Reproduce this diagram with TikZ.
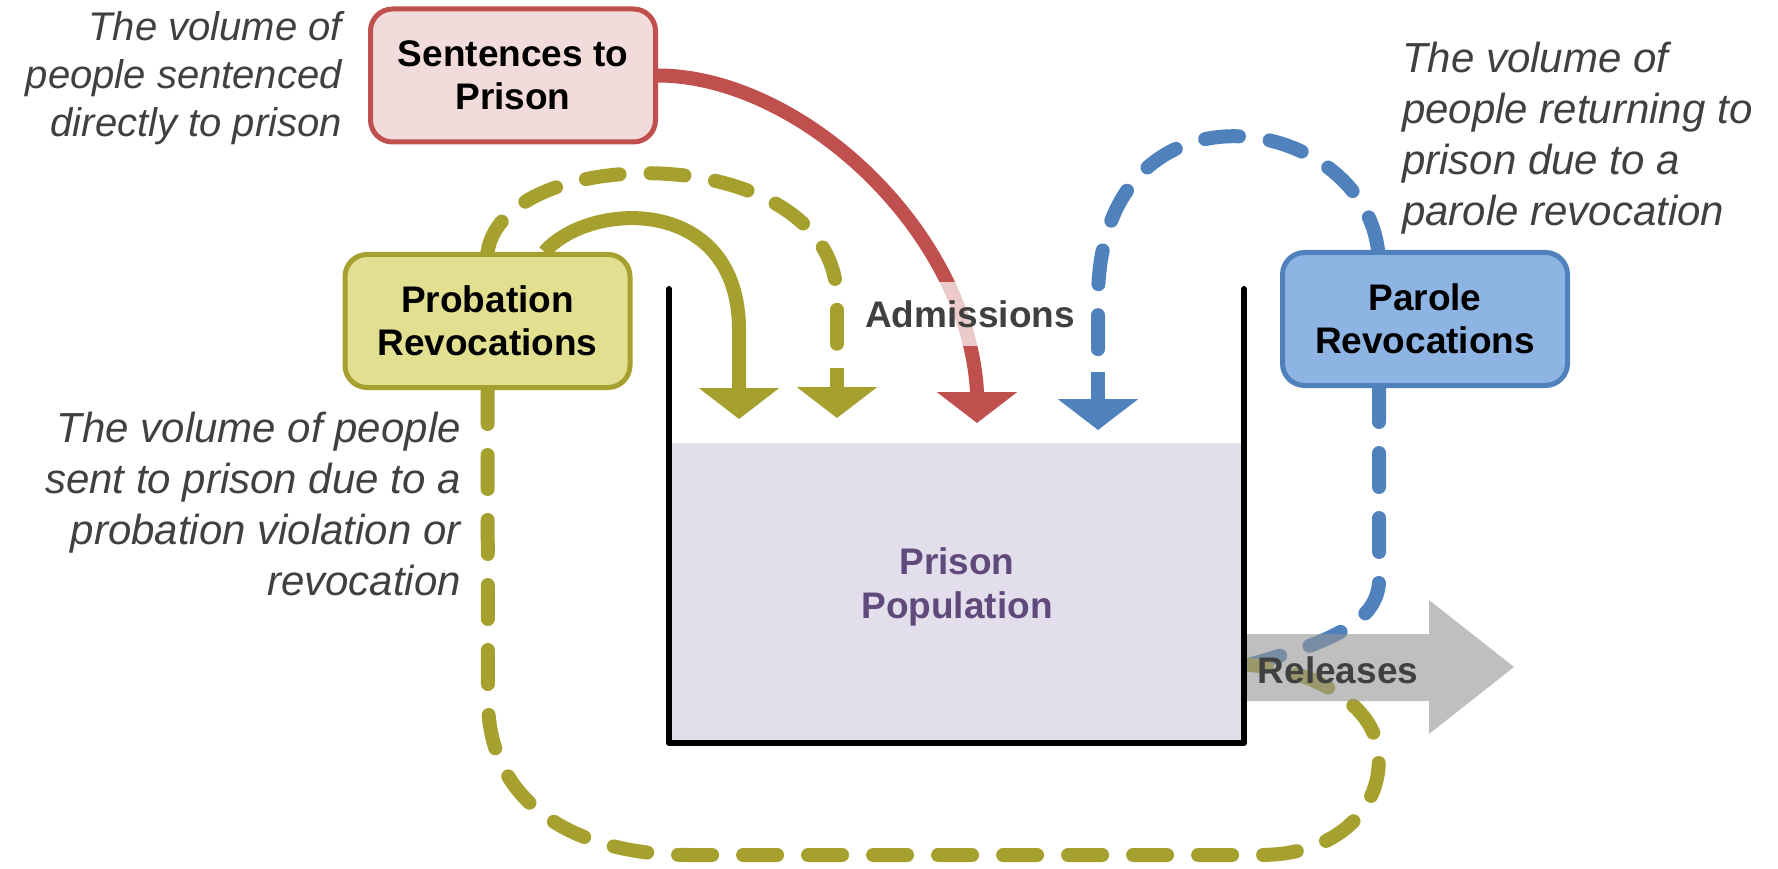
\documentclass[tikz,border=0pt]{standalone}
\usepackage{fontspec}
\setmainfont{Liberation Sans}
\usetikzlibrary{arrows.meta,positioning}

\definecolor{sentred}{HTML}{C0504D}
\definecolor{sentfill}{HTML}{F2DCDB}
\definecolor{probolive}{HTML}{A6A02E}
\definecolor{probfill}{HTML}{E2DF91}
\definecolor{parblue}{HTML}{4F81BD}
\definecolor{parfill}{HTML}{8EB4E3}
\definecolor{popfill}{HTML}{E2DEEC}
\definecolor{poptext}{HTML}{604A7B}
\definecolor{notegray}{HTML}{404040}
\definecolor{relgray}{HTML}{949494}

\pgfdeclarelayer{back}
\pgfsetlayers{back,main}

\tikzset{
  flowbox/.style={draw, line width=5pt, rounded corners=22pt, minimum width=285pt,
    minimum height=133pt, align=center, font=\fontsize{37}{43}\selectfont\bfseries},
  notetext/.style={inner sep=0pt, text=notegray, font=\fontsize{42}{51}\selectfont\itshape},
  flowlabel/.style={font=\fontsize{37}{44}\selectfont\bfseries},
  flow/.style={line width=14pt},
  dashflow/.style={line width=14pt, line cap=round, dash pattern=on 34pt off 31pt},
  tipped/.style={-{Triangle[width=79pt,length=31pt]}}
}

\begin{document}
\begin{tikzpicture}[x=1pt,y=1pt]
  \useasboundingbox (0,0) rectangle (1778,-869);

  % The prison
  \fill[popfill] (672,-443) rectangle (1241,-740);
  \draw[line width=6pt, line join=round, line cap=round]
    (669,-289) -- (669,-743) -- (1244,-743) -- (1244,-289);
  \node[flowlabel, text=poptext, align=center] (population) at (957,-587) {Prison\\Population};

  % The boxes
  \node[flowbox, draw=sentred, fill=sentfill] (sentences) at (513,-75.5) {Sentences to\\Prison};
  \node[flowbox, draw=probolive, fill=probfill] (probation) at (487.5,-321) {Probation\\Revocations};
  \node[flowbox, draw=parblue, fill=parfill] (parole) at (1425,-319) {Parole\\Revocations};

  % The notes
  \node[notetext, font=\fontsize{40}{48}\selectfont\itshape, anchor=north east, align=right]
    (sentnote) at (342,-11) {The volume of\\people sentenced\\directly to prison};
  \node[notetext, anchor=north west, align=left]
    (parnote) at (1402,-42) {The volume of\\people returning to\\prison due to a\\parole revocation};
  \node[notetext, anchor=north east, align=right]
    (probnote) at (461,-412) {The volume of people\\sent to prison due to a\\probation violation or\\revocation};

  % Where the flows end
  \coordinate (olivestub) at (837,-368);
  \coordinate (olivetip) at (837,-418);
  \coordinate (solidtip) at (739,-419);
  \coordinate (redtip) at (977,-423);
  \coordinate (bluestub) at (1098,-372);
  \coordinate (bluetip) at (1098,-430);
  \coordinate (outlet) at (1248,-665);

  \begin{pgfonlayer}{back}
    % Admissions
    \draw[flow, sentred, tipped] (sentences.east) .. controls (800,-76) and (968,-230) .. (977,-392) -- (redtip);
    \draw[flow, probolive, tipped] ([xshift=57pt]probation.north) .. controls (590,-200) and (739,-195) .. (739,-330) -- (solidtip);
    \draw[dashflow, probolive] (probation.north) .. controls (505,-140) and (837,-140) .. (837,-300) -- (olivestub);
    \draw[flow, probolive, tipped] (olivestub) -- (olivetip);
    \draw[dashflow, parblue] ([xshift=-47pt]parole.north) .. controls (1360,-110) and (1098,-70) .. (1098,-300) -- (bluestub);
    \draw[flow, parblue, tipped] (bluestub) -- (bluetip);
    % Back from releases
    \draw[dashflow, parblue] ([xshift=-46pt]parole.south) -- (1379,-580) .. controls (1379,-625) and (1320,-645) .. (outlet);
    \draw[dashflow, probolive] (probation.south) -- (488,-700) .. controls (488,-800) and (570,-855) .. (690,-855)
      -- (1260,-855) .. controls (1345,-855) and (1385,-800) .. (1378,-750) .. controls (1372,-700) and (1305,-668) .. (outlet);
  \end{pgfonlayer}

  \node[flowlabel, text=notegray, fill=white, fill opacity=0.7, text opacity=1, inner xsep=6pt, inner ysep=18pt]
    (admissions) at (970,-314) {Admissions};

  % Releases
  \fill[relgray, fill opacity=0.6] (1247,-634) -- (1429,-634) -- (1429,-600) -- (1514,-667)
    -- (1429,-734) -- (1429,-701) -- (1247,-701) -- cycle;
  \node[flowlabel, text=notegray] (releases) at (1338,-670) {Releases};
\end{tikzpicture}
\end{document}
